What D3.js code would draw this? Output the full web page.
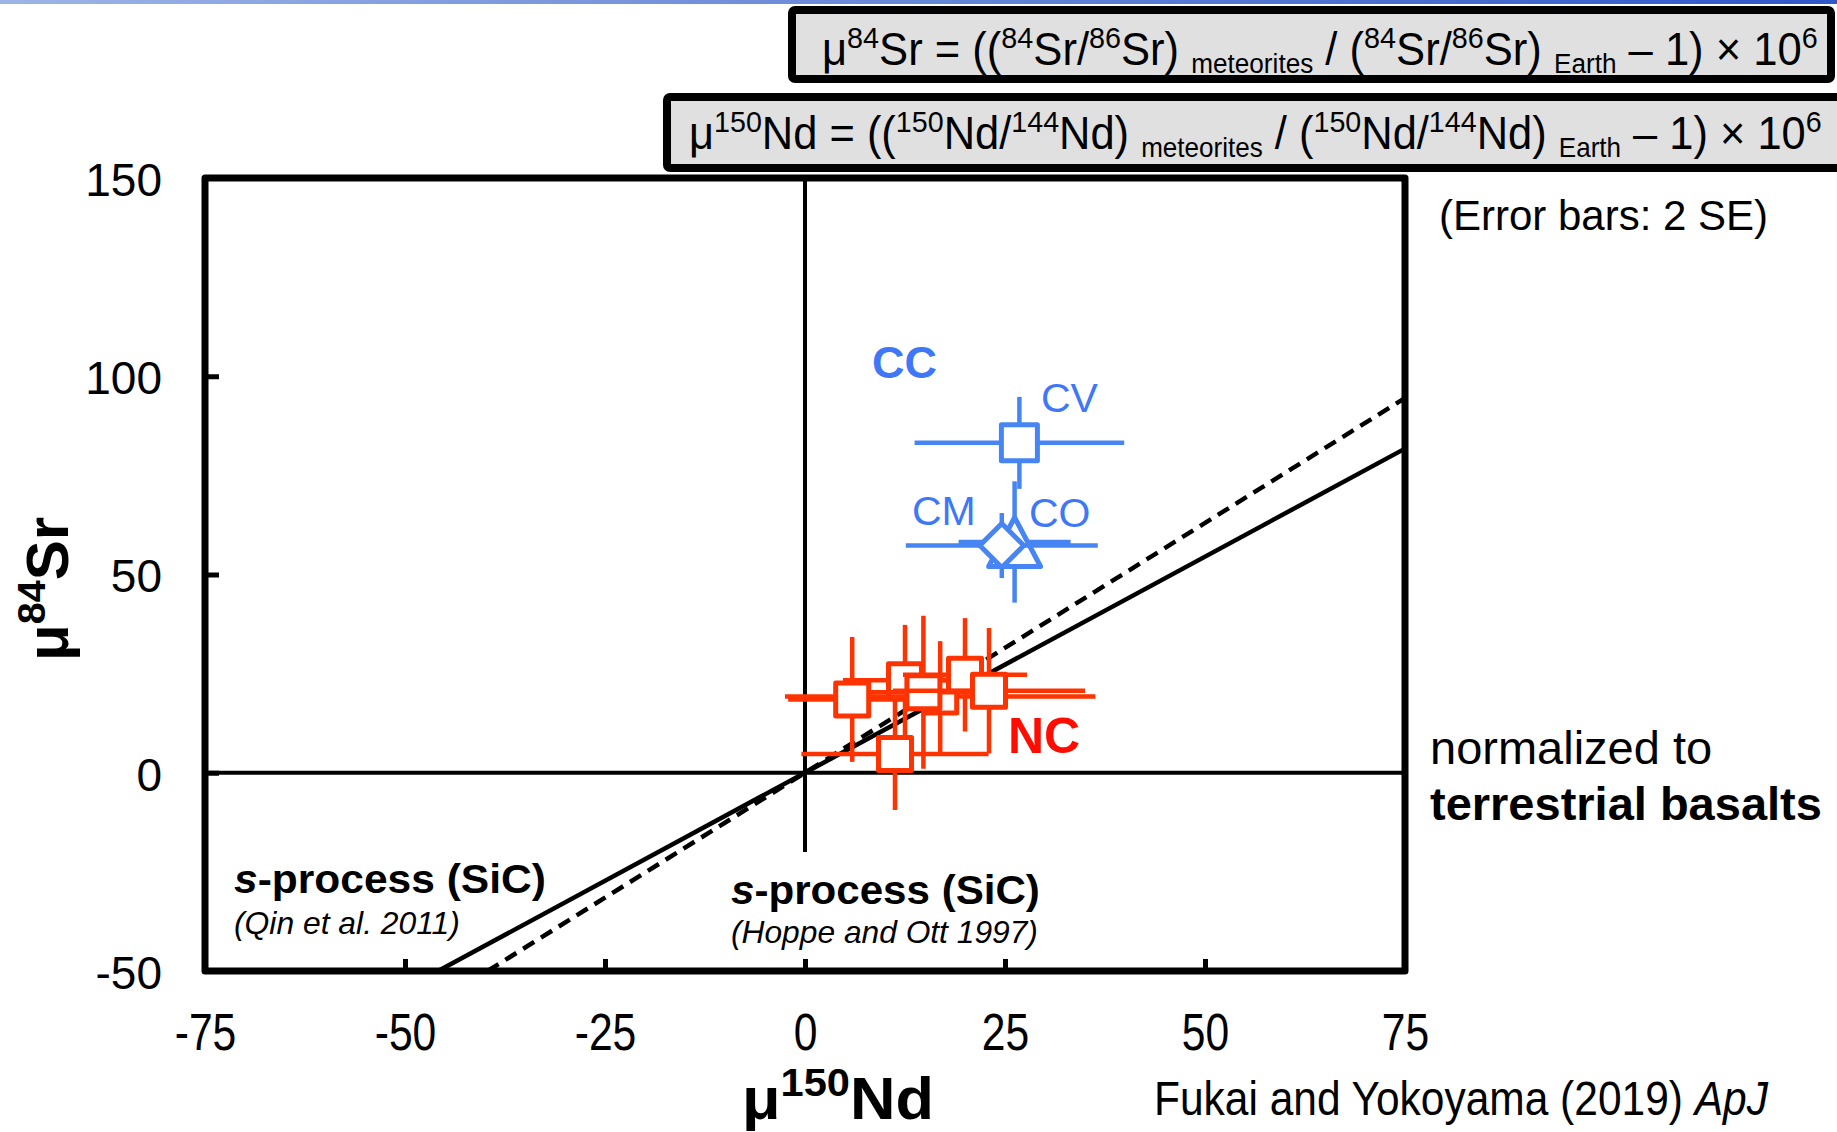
<!DOCTYPE html>
<html>
<head>
<meta charset="utf-8">
<script src="https://cdn.jsdelivr.net/npm/d3@7"></script>
<style>
  body { margin: 0; background: #fff; }
  svg { display: block; }
  text { white-space: pre; }
</style>
</head>
<body>
<svg id="chart" width="1837" height="1132"></svg>
<script>
// ---- data ----
const xTicks = [-75, -50, -25, 0, 25, 50, 75];
const yTicks = [-50, 0, 50, 100, 150];

// carbonaceous chondrites (CC)
const ccNames  = ['CV', 'CO', 'CM'];
const ccShapes = ['square', 'triangle', 'diamond'];
const ccX    = [26.8, 26.2, 24.6];
const ccY    = [83.2, 58.2, 57.3];
const ccXErr = [13.1, 7.0, 12.0];
const ccYErr = [11.6, 15.3, 8.2];

// non-carbonaceous meteorites (NC)
const ncX    = [16.9, 5.9, 11.25, 12.5, 14.8, 20.0, 23.0];
const ncY    = [19.2, 18.5, 4.7, 23.3, 20.3, 24.7, 20.7];
const ncXErr = [19.4, 8.0, 11.7, 7.75, 6.7, 7.75, 12.0];
const ncYErr = [14.0, 15.75, 14.1, 14.0, 19.3, 14.3, 15.8];

// s-process mixing lines through the origin
const sicRefs   = ['Qin et al. 2011', 'Hoppe and Ott 1997'];
const sicSlopes = [1.09, 1.26];
const sicDash   = [null, '13,8'];

const svg = d3.select('#chart');
const SANS = "'Liberation Sans', Arial, Helvetica, sans-serif";
const NARROW = "'Liberation Sans Narrow', 'Arial Narrow', 'Liberation Sans', Arial, sans-serif";
const BLUE = '#4785f4', BLUE_TXT = '#3f78f7', RED = '#ff3300', RED_TXT = '#ff0d00';

const x = d3.scaleLinear().domain([-75, 75]).range([205, 1405]);
const y = d3.scaleLinear().domain([-50, 150]).range([971, 178]);

// how narrow the "narrow" font really is (falls back to plain sans otherwise)
const probe = svg.append('text').style('font-family', NARROW).style('font-size', '100px').text('0123456789');
const cond = Math.min(1, 456 / probe.node().getComputedTextLength());
probe.remove();

function squeeze(sel, x0, k) {
  sel.attr('transform', `translate(${x0},0) scale(${k},1) translate(${-x0},0)`);
}
function fit(sel, x0, w) {
  const bw = sel.node().getBBox().width;
  squeeze(sel, x0, w / bw);
}
// text with super/subscripts
function rich(t, parts, base) {
  let off = 0;
  parts.forEach(([s, kind, style]) => {
    const shift = kind === 'sup' ? -0.38 * base : kind === 'sub' ? 0.17 * base : 0;
    const size = kind === 'sup' ? 0.66 * base : kind === 'sub' ? 0.6 * base : base;
    const ts = t.append('tspan').attr('dy', shift - off).style('font-size', size + 'px').text(s);
    if (style === 'i') ts.style('font-style', 'italic');
    if (style === 'b') ts.style('font-weight', 'bold');
    off = shift;
  });
  return t;
}

// top strip
const grad = svg.append('defs').append('linearGradient').attr('id', 'topgrad');
grad.append('stop').attr('offset', '0%').attr('stop-color', '#9db4e6');
grad.append('stop').attr('offset', '100%').attr('stop-color', '#2f58c8');
svg.append('rect').attr('x', 0).attr('y', 0).attr('width', 1837).attr('height', 4).attr('fill', 'url(#topgrad)');

// ---- formula boxes ----
const boxes = [
  { x: 792, y: 10, w: 1039, h: 69, tx: 822, ty: 65, tw: 996,
    parts: [['μ'], ['84', 'sup'], ['Sr = (('], ['84', 'sup'], ['Sr/'], ['86', 'sup'], ['Sr) '], ['meteorites', 'sub'],
            [' / ('], ['84', 'sup'], ['Sr/'], ['86', 'sup'], ['Sr) '], ['Earth', 'sub'], [' – 1) × 10'], ['6', 'sup']] },
  { x: 667, y: 97, w: 1200, h: 71, tx: 689, ty: 149, tw: 1133,
    parts: [['μ'], ['150', 'sup'], ['Nd = (('], ['150', 'sup'], ['Nd/'], ['144', 'sup'], ['Nd) '], ['meteorites', 'sub'],
            [' / ('], ['150', 'sup'], ['Nd/'], ['144', 'sup'], ['Nd) '], ['Earth', 'sub'], [' – 1) × 10'], ['6', 'sup']] }
];
boxes.forEach(b => {
  svg.append('rect').attr('x', b.x).attr('y', b.y).attr('width', b.w).attr('height', b.h)
    .attr('rx', 3).attr('fill', '#e0e0e0').attr('stroke', '#000').attr('stroke-width', 8);
  const t = svg.append('text').attr('x', b.tx).attr('y', b.ty)
    .style('font-family', NARROW).attr('fill', '#000');
  rich(t, b.parts, 46);
  fit(t, b.tx, b.tw);
});

// ---- plot ----
const plot = svg.append('g');

// zero lines
plot.append('line').attr('x1', x(-75)).attr('x2', x(75)).attr('y1', y(0)).attr('y2', y(0))
  .attr('stroke', '#000').attr('stroke-width', 4);
plot.append('line').attr('x1', x(0)).attr('x2', x(0)).attr('y1', y(150)).attr('y2', y(-20))
  .attr('stroke', '#000').attr('stroke-width', 4);

// s-process lines
sicSlopes.forEach((m, i) => {
  const x0 = Math.max(-75, -50 / m), x1 = Math.min(75, 150 / m);
  plot.append('line')
    .attr('x1', x(x0)).attr('y1', y(m * x0)).attr('x2', x(x1)).attr('y2', y(m * x1))
    .attr('stroke', '#000').attr('stroke-width', 4.5)
    .attr('stroke-dasharray', sicDash[i]);
});

// axes (plain hyphen for negatives, as in the original)
const plain = d => String(d);
const gy = plot.append('g').attr('transform', `translate(${x(-75)},0)`)
  .call(d3.axisLeft(y).tickValues(yTicks).tickFormat(plain).tickSizeInner(-14).tickSizeOuter(0).tickPadding(43));
gy.select('.domain').remove();
gy.selectAll('line').attr('stroke', '#000').attr('stroke-width', 5);
gy.selectAll('text').style('font-family', SANS).style('font-size', '46px').attr('dy', '0.38em').attr('fill', '#000');

const gx = plot.append('g').attr('transform', `translate(0,${y(-50)})`)
  .call(d3.axisBottom(x).tickValues(xTicks).tickFormat(plain).tickSizeInner(-12).tickSizeOuter(0).tickPadding(42));
gx.select('.domain').remove();
gx.selectAll('line').attr('stroke', '#000').attr('stroke-width', 5);
gx.selectAll('text').style('font-family', NARROW).style('font-size', '52px').attr('fill', '#000')
  .each(function () { squeeze(d3.select(this), 0, cond); });

// frame
plot.append('rect').attr('x', x(-75)).attr('y', y(150))
  .attr('width', x(75) - x(-75)).attr('height', y(-50) - y(150))
  .attr('fill', 'none').attr('stroke', '#000').attr('stroke-width', 7).attr('stroke-linejoin', 'round');

// markers
function marker(g, shape, cx, cy, r, color) {
  let d;
  if (shape === 'square') d = `M${cx - r},${cy - r}H${cx + r}V${cy + r}H${cx - r}Z`;
  else if (shape === 'diamond') d = `M${cx},${cy - r}L${cx + r},${cy}L${cx},${cy + r}L${cx - r},${cy}Z`;
  else d = `M${cx},${cy - r}L${cx + r * 1.06},${cy + r}L${cx - r * 1.06},${cy + r}Z`;
  g.append('path').attr('d', d)
    .attr('fill', '#fff').attr('stroke', color).attr('stroke-width', 5).attr('stroke-linejoin', 'round');
}
function errPoint(g, px, py, ex, ey, shape, r, color) {
  g.append('line').attr('x1', x(px - ex)).attr('x2', x(px + ex)).attr('y1', y(py)).attr('y2', y(py))
    .attr('stroke', color).attr('stroke-width', 4.5);
  g.append('line').attr('x1', x(px)).attr('x2', x(px)).attr('y1', y(py - ey)).attr('y2', y(py + ey))
    .attr('stroke', color).attr('stroke-width', 4.5);
  marker(g, shape, x(px), y(py), r, color);
}

const ncG = plot.append('g');
ncX.forEach((v, i) => errPoint(ncG, v, ncY[i], ncXErr[i], ncYErr[i], 'square', 16.5, RED));

const ccG = plot.append('g');
ccX.forEach((v, i) => {
  const r = ccShapes[i] === 'square' ? 18 : ccShapes[i] === 'diamond' ? 22 : 24.5;
  errPoint(ccG, v, ccY[i], ccXErr[i], ccYErr[i], ccShapes[i], r, BLUE);
});

// group and sample labels
svg.append('text').attr('x', 872).attr('y', 378).text('CC')
  .style('font-family', SANS).style('font-weight', 'bold').style('font-size', '45px').attr('fill', BLUE_TXT);
const ccLabelPos = [[1041, 412], [1029, 527], [912, 525]];
ccNames.forEach((n, i) => {
  svg.append('text').attr('x', ccLabelPos[i][0]).attr('y', ccLabelPos[i][1]).text(n)
    .style('font-family', SANS).style('font-size', '41px').attr('fill', BLUE_TXT);
});
svg.append('text').attr('x', 1008).attr('y', 753).text('NC')
  .style('font-family', SANS).style('font-weight', 'bold').style('font-size', '50px').attr('fill', RED_TXT);

// s-process annotations
const sicLabelPos = [[234, 893, 312, 934, 226], [731, 904, 309, 943, 307]];
sicRefs.forEach((ref, i) => {
  const [lx, ly, lw, ry, rw] = sicLabelPos[i];
  const t = svg.append('text').attr('x', lx).attr('y', ly)
    .style('font-family', NARROW).style('font-weight', 'bold').style('font-size', '40px').attr('fill', '#000');
  t.append('tspan').style('font-style', 'italic').text('s');
  t.append('tspan').text('-process (SiC)');
  fit(t, lx, lw);
  const r = svg.append('text').attr('x', lx).attr('y', ry).text(`(${ref})`)
    .style('font-family', NARROW).style('font-style', 'italic').style('font-size', '32px').attr('fill', '#000');
  fit(r, lx, rw);
});

// side notes
svg.append('text').attr('x', 1439).attr('y', 230).text('(Error bars: 2 SE)')
  .style('font-family', SANS).style('font-size', '42px').attr('fill', '#000');
svg.append('text').attr('x', 1430).attr('y', 764).text('normalized to')
  .style('font-family', SANS).style('font-size', '47px').attr('fill', '#000');
svg.append('text').attr('x', 1430).attr('y', 820).text('terrestrial basalts')
  .style('font-family', SANS).style('font-weight', 'bold').style('font-size', '47px').attr('fill', '#000');

// axis titles
const xt = svg.append('text').attr('x', 742).attr('y', 1119)
  .style('font-family', SANS).style('font-weight', 'bold').attr('fill', '#000');
rich(xt, [['μ'], ['150', 'sup'], ['Nd']], 60);
fit(xt, 742, 192);

const yt = svg.append('text').attr('transform', 'translate(68,589) rotate(-90)')
  .attr('text-anchor', 'middle')
  .style('font-family', SANS).style('font-weight', 'bold').attr('fill', '#000');
rich(yt, [['μ'], ['84', 'sup'], ['Sr']], 60);

// citation
const cite = svg.append('text').attr('x', 1154).attr('y', 1115)
  .style('font-family', NARROW).style('font-size', '48px').attr('fill', '#000');
cite.append('tspan').text('Fukai and Yokoyama (2019) ');
cite.append('tspan').style('font-style', 'italic').text('ApJ');
fit(cite, 1154, 615);
</script>
</body>
</html>
